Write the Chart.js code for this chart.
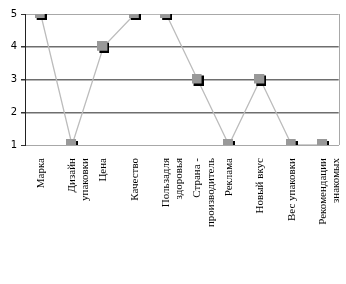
<!DOCTYPE html>
<html>
<head>
<meta charset="utf-8">
<script src="https://cdn.jsdelivr.net/npm/chart.js@4"></script>
<style>
  html, body { margin: 0; padding: 0; background: #fff; }
  #wrap { width: 346px; height: 284px; position: relative; }
</style>
</head>
<body>
<div id="wrap"><canvas id="chart"></canvas></div>
<script>
const categories = [
  'Марка',
  ['Дизайн', 'упаковки'],
  'Цена',
  'Качество',
  ['Пользадля', 'здоровья'],
  ['Страна -', 'производитель'],
  'Реклама',
  'Новый вкус',
  'Вес упаковки',
  ['Рекомендации', 'знакомых']
];
const scores = [5, 1, 4, 5, 5, 3, 1, 3, 1, 1];
const yTicks = [1, 2, 3, 4, 5];

// square marker with a dark drop shadow
const marker = document.createElement('canvas');
marker.width = 12;
marker.height = 12;
const mctx = marker.getContext('2d');
mctx.fillStyle = '#000';
mctx.fillRect(2, 2, 10, 10);
mctx.fillStyle = '#999';
mctx.fillRect(0, 0, 10, 10);

const frame = {
  id: 'frame',
  afterDraw(chart) {
    const { ctx, chartArea: a } = chart;
    ctx.save();
    ctx.strokeStyle = '#a8a8a8';
    ctx.lineWidth = 1;
    ctx.beginPath();
    ctx.moveTo(Math.round(a.right) + 0.5, a.top);
    ctx.lineTo(Math.round(a.right) + 0.5, a.bottom);
    ctx.stroke();
    ctx.restore();
  }
};

new Chart(document.getElementById('chart'), {
  type: 'line',
  data: {
    labels: categories,
    datasets: [{
      data: scores,
      borderColor: '#bcbcbc',
      borderWidth: 1.3,
      pointStyle: marker,
      pointRadius: 6,
      pointHoverRadius: 6,
      tension: 0,
      fill: false
    }]
  },
  options: {
    responsive: true,
    maintainAspectRatio: false,
    animation: false,
    events: [],
    layout: { padding: { top: 14, right: 4, left: 0, bottom: 0 } },
    plugins: {
      legend: { display: false },
      tooltip: { enabled: false }
    },
    scales: {
      x: {
        offset: true,
        grid: { display: false },
        border: { color: '#a8a8a8' },
        ticks: {
          maxRotation: 90,
          minRotation: 90,
          autoSkip: false,
          padding: 5,
          color: '#000',
          font: { family: 'Liberation Serif', size: 11 }
        },
        afterFit(scale) {
          scale.height = 139;
          scale.paddingLeft = 0;
          scale.paddingRight = 0;
        }
      },
      y: {
        min: yTicks[0],
        max: yTicks[yTicks.length - 1],
        afterBuildTicks(scale) { scale.ticks = yTicks.map(v => ({ value: v })); },
        grid: {
          color: ctx => (ctx.tick && (ctx.tick.value === 1 || ctx.tick.value === 5)) ? '#a8a8a8' : '#6e6e6e',
          lineWidth: ctx => (ctx.tick && (ctx.tick.value === 1 || ctx.tick.value === 5)) ? 1 : 1.5,
          tickLength: 4,
          tickColor: '#333'
        },
        border: { color: '#222', width: 1 },
        ticks: {
          padding: 4,
          color: '#000',
          font: { family: 'DejaVu Sans', size: 10 }
        },
        afterFit(scale) { scale.width = 25; }
      }
    }
  },
  plugins: [frame]
});
</script>
</body>
</html>
